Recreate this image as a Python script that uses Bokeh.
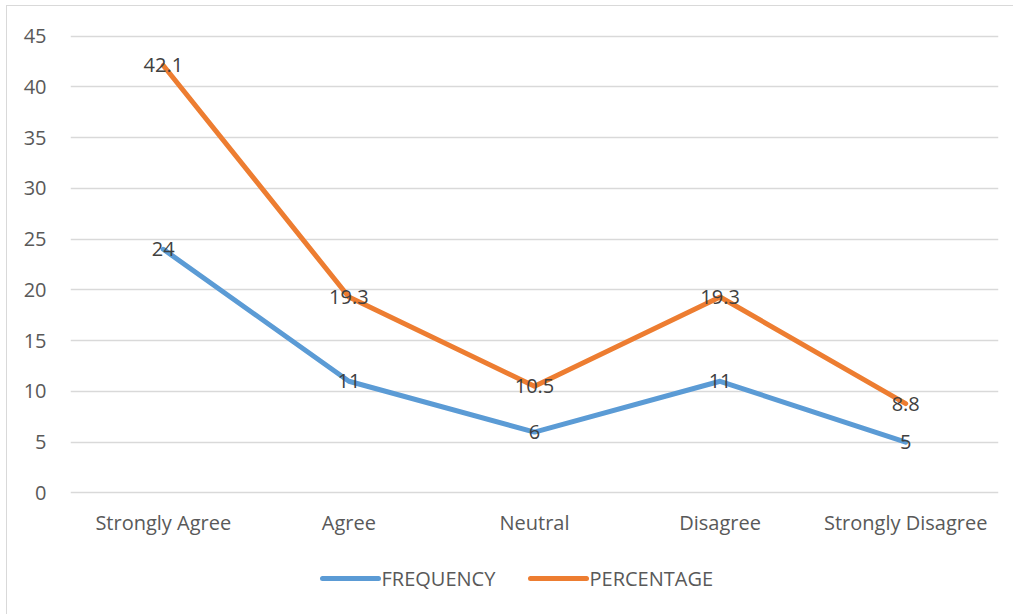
from bokeh.plotting import figure
from bokeh.layouts import column
from bokeh.models import ColumnDataSource, FixedTicker, Range1d
from bokeh.core.properties import value
from bokeh.embed import file_html
from bokeh.resources import INLINE

# Survey responses per answer category
categories = ["Strongly Agree", "Agree", "Neutral", "Disagree", "Strongly Disagree"]
frequency = [24, 11, 6, 11, 5]
percentage = [42.1, 19.3, 10.5, 19.3, 8.8]
y_ticks = [0, 5, 10, 15, 20, 25, 30, 35, 40, 45]
series_names = ["FREQUENCY", "PERCENTAGE"]

FONT = "Open Sans"
FS = "20px"
BLUE = "#5B9BD5"
ORANGE = "#ED7D31"
TEXT = "#595959"
W = 1006

src = ColumnDataSource(data=dict(
    cat=categories,
    freq=frequency,
    pct=percentage,
    freq_lbl=[f"{v:g}" for v in frequency],
    pct_lbl=[f"{v:g}" for v in percentage],
))

p = figure(
    x_range=categories,
    y_range=Range1d(-0.15, 45.15),
    width=W, height=539,
    output_backend="svg", toolbar_location=None,
    min_border_left=63, min_border_right=15,
    min_border_top=28, min_border_bottom=51,
)
p.outline_line_color = None

# lines
p.line("cat", "freq", source=src, line_color=BLUE, line_width=5,
       line_cap="round", line_join="round")
p.line("cat", "pct", source=src, line_color=ORANGE, line_width=5,
       line_cap="round", line_join="round")

# value labels centred on each point
for col in ("freq", "pct"):
    p.text("cat", col, text=col + "_lbl", source=src,
           text_align="center", text_baseline="middle",
           text_font=value(FONT), text_font_size=FS, text_color="#404040")

# axes
p.yaxis.ticker = FixedTicker(ticks=y_ticks)
p.yaxis.axis_line_color = None
p.yaxis.major_tick_line_color = None
p.yaxis.minor_tick_line_color = None
p.yaxis.major_label_text_font = FONT
p.yaxis.major_label_text_font_size = FS
p.yaxis.major_label_text_color = TEXT
p.yaxis.major_label_standoff = 18

p.xaxis.axis_line_color = None
p.xaxis.major_tick_line_color = None
p.xaxis.major_label_text_font = FONT
p.xaxis.major_label_text_font_size = FS
p.xaxis.major_label_text_color = TEXT
p.xaxis.major_label_standoff = 8

p.xgrid.grid_line_color = None
p.ygrid.grid_line_color = "#d9d9d9"
p.ygrid.grid_line_width = 1.5

# legend strip underneath the chart; its frame lines up with the chart frame,
# so the x range is expressed in page pixels (frame spans 70..998)
leg = figure(
    width=W, height=69, x_range=Range1d(70, 998), y_range=Range1d(0, 69),
    x_axis_type=None, y_axis_type=None,
    output_backend="svg", toolbar_location=None, min_border=0,
)
leg.outline_line_color = None
leg.grid.visible = False

swatch_x0 = [322, 530]
swatch_len = 56
row_y = 36
leg_src = ColumnDataSource(data=dict(
    x0=swatch_x0,
    x1=[x + swatch_len for x in swatch_x0],
    tx=[x + swatch_len + 3 for x in swatch_x0],
    y=[row_y, row_y],
    color=[BLUE, ORANGE],
    name=series_names,
))
leg.segment("x0", "y", "x1", "y", source=leg_src, line_color="color",
            line_width=5, line_cap="round")
leg.text("tx", "y", text="name", source=leg_src, text_align="left",
         text_baseline="middle", text_font=value(FONT), text_font_size=FS,
         text_color=TEXT)

layout = column(p, leg, spacing=0)
layout.margin = (5, 0, 0, 6)
layout.styles = {"border-top": "1px solid #d9d9d9",
                 "border-left": "1px solid #d9d9d9"}
open("out.html", "w").write(file_html(layout, INLINE))
